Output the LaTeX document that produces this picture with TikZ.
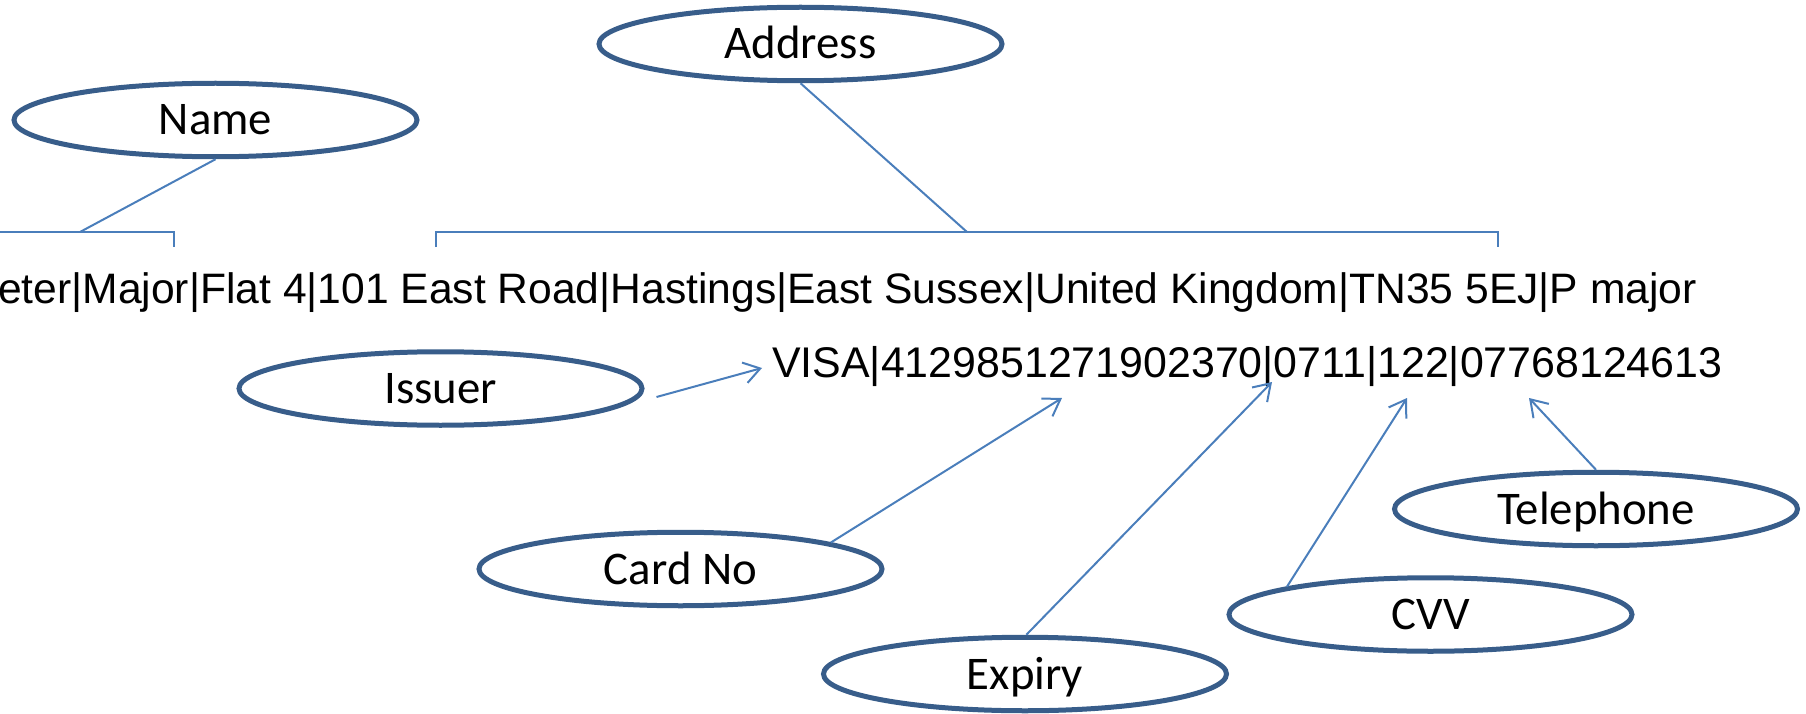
\documentclass[tikz,border=0pt]{standalone}
\usepackage{fontspec}
\setmainfont{Liberation Sans}
\newfontfamily\calib{Carlito}
\usetikzlibrary{shapes.geometric,arrows.meta}
\definecolor{ellblue}{RGB}{56,93,138}
\definecolor{lnblue}{RGB}{74,126,187}
\tikzset{
  attr/.style={ellipse, draw=ellblue, line width=5pt, minimum width=403pt,
    minimum height=73.5pt, inner sep=0pt, text height=30pt, text depth=0pt,
    font=\calib\fontsize{46.8}{50}\selectfont},
  conn/.style={draw=lnblue, line width=2pt},
  arr/.style={conn, -{Straight Barb[length=16pt,width=21pt]}},
  rec/.style={inner sep=0pt, font=\fontsize{42.6}{50}\selectfont}
}
\begin{document}
\begin{tikzpicture}[x=1pt,y=-1pt]
\useasboundingbox (0,0) rectangle (1806,714);
% records
\node[rec, anchor=base east] (line1) at (1697,303)
  {eter|Major|Flat 4|101 East Road|Hastings|East Sussex|United Kingdom|TN35 5EJ|P major};
\node[rec, anchor=base west, font=\fontsize{42.9}{50}\selectfont] (line2) at (772,377)
  {VISA|4129851271902370|0711|122|07768124613};
% attribute ellipses
\node[attr] (name) at (215.5,120) {Name};
\node[attr] (address) at (800.5,44) {Address};
\node[attr] (issuer) at (440.5,388.5) {Issuer};
\node[attr] (cardno) at (680.5,569) {Card No};
\node[attr] (expiry) at (1025,674) {Expiry};
\node[attr] (cvv) at (1430.5,614.5) {CVV};
\node[attr] (tel) at (1596,509) {Telephone};
% brackets
\coordinate (nbl) at (0,232);
\coordinate (nbr) at (174,232);
\coordinate (nbrt) at (174,247);
\coordinate (abl) at (436,232);
\coordinate (ablt) at (436,247);
\coordinate (abr) at (1498,232);
\coordinate (abrt) at (1498,247);
\coordinate (nb) at (80,232);
\coordinate (ab) at (967,232);
\draw[conn] (nbl) -- (nbr) -- (nbrt);
\draw[conn] (ablt) -- (abl) -- (abr) -- (abrt);
\draw[conn] (name.south) -- (nb);
\draw[conn] (address.south) -- (ab);
% arrow tips
\coordinate (tIss) at (762,368);
\coordinate (tCard) at (1062,398);
\coordinate (tExp) at (1272,382);
\coordinate (tCvv) at (1407,398);
\coordinate (tTel) at (1529,398);
\draw[arr] ([shift={(12,8.5)}]issuer.east) -- (tIss);
\draw[arr] (cardno.10.6) -- (tCard);
\draw[arr] (expiry.88) -- (tExp);
\draw[arr] (cvv.169) -- (tCvv);
\draw[arr] (tel.north) -- (tTel);
\end{tikzpicture}
\end{document}
